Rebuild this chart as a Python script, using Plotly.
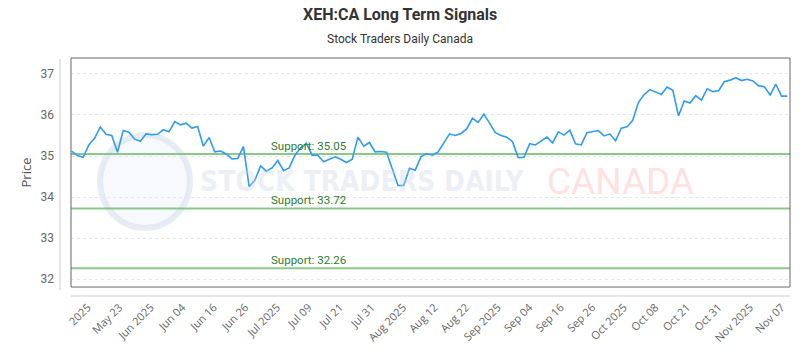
import plotly.graph_objects as go
import numpy as np

# ---- data ----
prices = [
    35.12, 35.01, 34.97, 35.27, 35.43, 35.71, 35.53, 35.50, 35.09, 35.62,
    35.58, 35.41, 35.36, 35.54, 35.52, 35.53, 35.64, 35.59, 35.84, 35.76,
    35.80, 35.68, 35.72, 35.24, 35.45, 35.10, 35.12, 35.05, 34.93, 34.94,
    35.23, 34.25, 34.41, 34.76, 34.63, 34.71, 34.89, 34.64, 34.71, 35.02,
    35.20, 35.31, 35.02, 35.02, 34.86, 34.92, 34.98, 34.92, 34.84, 34.92,
    35.46, 35.24, 35.33, 35.10, 35.11, 35.09, 34.71, 34.28, 34.28, 34.70,
    34.65, 34.98, 35.06, 35.02, 35.10, 35.31, 35.54, 35.50, 35.55, 35.66,
    35.92, 35.82, 36.02, 35.80, 35.57, 35.50, 35.46, 35.35, 34.96, 34.97,
    35.30, 35.27, 35.37, 35.46, 35.32, 35.59, 35.51, 35.63, 35.30, 35.27,
    35.57, 35.59, 35.62, 35.49, 35.54, 35.37, 35.68, 35.71, 35.87, 36.31,
    36.50, 36.62, 36.55, 36.50, 36.68, 36.60, 35.98, 36.34, 36.29, 36.47,
    36.36, 36.64, 36.57, 36.59, 36.81, 36.85, 36.91, 36.84, 36.87, 36.83,
    36.71, 36.69, 36.49, 36.75, 36.46, 36.46,
]
supports = [35.05, 33.72, 32.26]
support_labels = ["Support: 35.05", "Support: 33.72", "Support: 32.26"]
tick_labels = [
    "2025", "May 23", "Jun 2025", "Jun 04", "Jun 16", "Jun 26", "Jul 2025",
    "Jul 09", "Jul 21", "Jul 31", "Aug 2025", "Aug 12", "Aug 22", "Sep 2025",
    "Sep 04", "Sep 16", "Sep 26", "Oct 2025", "Oct 08", "Oct 21", "Oct 31",
    "Nov 2025", "Nov 07",
]
title = "XEH:CA Long Term Signals"
subtitle = "Stock Traders Daily Canada"

x = list(range(len(prices)))
tickvals = list(np.linspace(2.8, 124.0, len(tick_labels)))

PL, PR, PT, PB = 71, 790, 58, 287
W, H = PR - PL, PB - PT


def px(v):
    return (v - PL) / W


def py(v):
    return (PB - v) / H


fig = go.Figure()

for s in supports:
    fig.add_trace(go.Scatter(
        x=[x[0] - 1, x[-1] + 1], y=[s, s], mode="lines",
        line=dict(color="rgba(120,190,120,0.85)", width=2),
        hoverinfo="skip", showlegend=False,
    ))

fig.add_trace(go.Scatter(
    x=x, y=prices, mode="lines",
    line=dict(color="#2F9CF2", width=1.6),
    showlegend=False,
))

annotations = []
for s, lab in zip(supports, support_labels):
    annotations.append(dict(
        x=px(269), xref="paper", y=s, yref="y", text=lab, showarrow=False,
        xanchor="left", yanchor="bottom", yshift=-1,
        font=dict(family="Roboto", size=11.5, color="#2E7D32"),
    ))

# watermark
annotations.append(dict(
    x=px(362), xref="paper", xanchor="center", y=py(181), yref="paper",
    yanchor="middle", text="<b>STOCK TRADERS DAILY</b>", showarrow=False,
    font=dict(family="DejaVu Sans Condensed", size=28, color="rgba(200,210,228,0.35)"),
))
annotations.append(dict(
    x=px(620), xref="paper", xanchor="center", y=py(181), yref="paper",
    yanchor="middle", text="CANADA", showarrow=False,
    font=dict(family="Roboto", size=37, color="rgba(255,175,175,0.4)"),
))

# titles (centred on the full canvas)
annotations.append(dict(
    x=px(400), xref="paper", xanchor="center", y=py(15), yref="paper",
    yanchor="middle", text="<b>" + title + "</b>", showarrow=False,
    font=dict(family="Roboto", size=16, color="#333333"),
))
annotations.append(dict(
    x=px(400), xref="paper", xanchor="center", y=py(39), yref="paper",
    yanchor="middle", text=subtitle, showarrow=False,
    font=dict(family="Roboto", size=12, color="#333333"),
))

shapes = [
    dict(type="circle", xref="paper", yref="paper", layer="below",
         x0=px(100), x1=px(190), y0=py(228), y1=py(135),
         line=dict(color="rgba(205,215,232,0.45)", width=6),
         fillcolor="rgba(225,232,242,0.25)"),
    dict(type="rect", xref="paper", yref="paper", x0=0, x1=1, y0=0, y1=1,
         line=dict(color="#666666", width=1)),
    dict(type="line", xref="paper", yref="paper",
         x0=px(60), x1=px(60), y0=py(290), y1=py(59),
         line=dict(color="#cccccc", width=1)),
    dict(type="line", xref="paper", yref="paper",
         x0=0, x1=1, y0=py(296), y1=py(296),
         line=dict(color="#cccccc", width=1)),
]

fig.update_layout(
    width=800, height=350,
    margin=dict(l=PL, r=800 - PR, t=PT, b=350 - PB),
    paper_bgcolor="white", plot_bgcolor="white",
    annotations=annotations, shapes=shapes,
    xaxis=dict(
        range=[-0.12, 125.47], tickmode="array", tickvals=tickvals,
        ticktext=tick_labels, tickangle=-45, showgrid=False, zeroline=False,
        showline=False, ticks="", ticklabelstandoff=11, automargin=False,
        tickfont=dict(family="Open Sans", size=11, color="#666666"),
    ),
    yaxis=dict(
        range=[31.805, 37.39], tickmode="array", tickvals=[32, 33, 34, 35, 36, 37],
        showgrid=True, gridcolor="#e6e6e6", griddash="dot", gridwidth=1,
        zeroline=False, showline=False, ticks="", ticklabelstandoff=16,
        automargin=False,
        tickfont=dict(family="Roboto", size=12, color="#666666"),
        title=dict(text="Price", font=dict(family="Open Sans", size=13, color="#555555"),
                   standoff=5),
    ),
)

fig.write_html("out.html")
